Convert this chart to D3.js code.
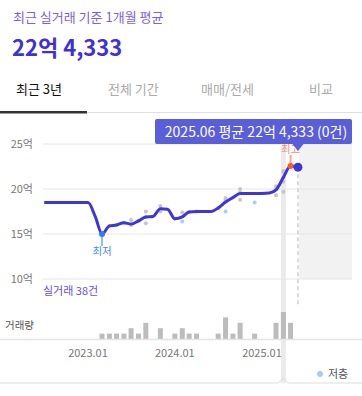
<!DOCTYPE html>
<html>
<head>
<meta charset="utf-8">
<script src="https://cdn.jsdelivr.net/npm/d3@7"></script>
<style>
  body { margin: 0; background: #fff; }
  svg { display: block; font-family: "Noto Sans CJK KR", "Noto Sans", sans-serif; }
</style>
</head>
<body>
<svg id="chart" width="362" height="396"></svg>
<script>
// monthly average (억)
const months = [
  '2022.07','2022.08','2022.09','2022.10','2022.11','2022.12',
  '2023.01','2023.02','2023.03','2023.04','2023.05','2023.06','2023.07','2023.08','2023.09','2023.10','2023.11','2023.12',
  '2024.01','2024.02','2024.03','2024.04','2024.05','2024.06','2024.07','2024.08','2024.09','2024.10','2024.11','2024.12',
  '2025.01','2025.02','2025.03','2025.04','2025.05','2025.06'
];
const avgPrice = [
  18.5, 18.5, 18.5, 18.5, 18.5, 18.5,
  18.5, 16.9, 15.0, 15.9, 16.0, 16.25, 16.1, 16.45, 16.9, 16.95, 17.8, 17.75,
  16.7, 16.9, 17.45, 17.5, 17.5, 17.5, 17.9, 18.55, 19.05, 19.5, 19.5, 19.5,
  19.5, 19.55, 19.9, 21.3, 22.55, 22.43
];
const volume = [
  0, 0, 0, 0, 0, 0,
  0, 0, 1, 1, 1, 1, 2, 1, 3, 0, 2, 0,
  1, 2, 1, 1, 0, 0, 1, 4, 1, 3, 0, 1,
  0, 0, 3, 5, 3, 0
];

// individual trades: month, price, low floor?
const tradeMonth = [
  '2023.03','2023.04','2023.05','2023.06','2023.07','2023.07','2023.08',
  '2023.09','2023.09','2023.09','2023.11','2023.11','2024.01','2024.02','2024.02',
  '2024.03','2024.04','2024.07','2024.08','2024.08','2024.08','2024.08','2024.09',
  '2024.10','2024.10','2024.10','2024.12','2025.03','2025.03','2025.03',
  '2025.04','2025.04','2025.04','2025.04','2025.04','2025.05','2025.05','2025.05'
];
const tradePrice = [
  15.0, 15.9, 16.0, 16.25, 16.55, 16.0, 16.45,
  17.5, 16.2, 16.9, 17.5, 18.1, 16.7, 16.4, 17.4,
  17.45, 17.5, 17.9, 17.5, 18.6, 19.0, 18.9, 19.05,
  20.0, 18.8, 19.6, 18.5, 20.3, 19.3, 20.0,
  21.9, 20.8, 19.7, 21.3, 22.0, 22.55, 22.6, 22.5
];
const tradeLow = [
  0, 0, 0, 0, 0, 0, 0,
  0, 0, 0, 0, 0, 0, 1, 0,
  0, 0, 0, 1, 0, 0, 0, 0,
  0, 0, 0, 1, 0, 0, 0,
  0, 0, 0, 0, 0, 0, 0, 0
];

const yTicks = [10, 15, 20, 25];
const xTicks = ['2023.01', '2024.01', '2025.01'];
const tabs = ['최근 3년', '전체 기간', '매매/전세', '비교'];

const parse = d3.timeParse('%Y.%m');
const svg = d3.select('#chart');

const x = d3.scaleTime()
  .domain([parse('2023.01'), parse('2025.01')])
  .range([88, 262]);
const y = d3.scaleLinear().domain([10, 25]).range([279, 144]);
const yBar = d3.scaleLinear().domain([0, 5]).range([339, 312]);

const plotLeft = 43, plotRight = 352;
const lastX = x(parse('2025.06'));
const hiX = x(parse('2025.04'));

// header
svg.append('text').attr('x', 13).attr('y', 22)
  .attr('font-size', 13).attr('fill', '#7b5fe4')
  .text('최근 실거래 기준 1개월 평균');
svg.append('text').attr('x', 12).attr('y', 56)
  .attr('font-size', 22).attr('font-weight', 700).attr('fill', '#3f30d9')
  .text('22억 4,333');

const tabX = [16, 108, 201, 309];
svg.selectAll('.tab').data(tabs).join('text')
  .attr('class', 'tab')
  .attr('x', (d, i) => tabX[i]).attr('y', 94)
  .attr('font-size', 13)
  .attr('fill', (d, i) => i === 0 ? '#111' : '#aaa')
  .text(d => d);
svg.append('line').attr('x1', 0).attr('x2', 362).attr('y1', 112.5).attr('y2', 112.5)
  .attr('stroke', '#e0e0e0').attr('stroke-width', 1);
svg.append('rect').attr('x', 0).attr('y', 111).attr('width', 87).attr('height', 2.5)
  .attr('fill', '#333');

// future shade
svg.append('rect').attr('x', lastX + 1).attr('y', y(25))
  .attr('width', plotRight - lastX - 1).attr('height', y(10) - y(25))
  .attr('fill', '#f2f2f2');

// highlight band
svg.append('rect').attr('x', hiX - 2.5).attr('y', 140)
  .attr('width', 5).attr('height', 243)
  .attr('fill', '#ebebeb');

// grid + y labels
svg.selectAll('.grid').data(yTicks).join('line')
  .attr('class', 'grid')
  .attr('x1', plotLeft).attr('x2', plotRight)
  .attr('y1', d => y(d)).attr('y2', d => y(d))
  .attr('stroke', '#e6e6e6');
svg.selectAll('.ylab').data(yTicks).join('text')
  .attr('class', 'ylab')
  .attr('x', 33).attr('y', d => y(d) + 4)
  .attr('text-anchor', 'end').attr('font-size', 11).attr('fill', '#777')
  .text(d => d + '억');

// dashed current line
svg.append('line').attr('x1', lastX).attr('x2', lastX)
  .attr('y1', y(22.43)).attr('y2', 307)
  .attr('stroke', '#cfcfcf').attr('stroke-width', 1.5).attr('stroke-dasharray', '4,3');

svg.append('text').attr('x', 43).attr('y', 295)
  .attr('font-size', 11).attr('fill', '#6a4fe0')
  .text('실거래 38건');
svg.append('text').attr('x', 5).attr('y', 329)
  .attr('font-size', 10.5).attr('fill', '#555')
  .text('거래량');

// volume bars
svg.selectAll('.bar').data(months.map((m, i) => ({ m, v: volume[i] })).filter(d => d.v > 0))
  .join('rect')
  .attr('class', 'bar')
  .attr('x', d => x(parse(d.m)) - 2.5)
  .attr('y', d => yBar(d.v))
  .attr('width', 5)
  .attr('height', d => yBar(0) - yBar(d.v))
  .attr('fill', '#bcbcbc');

// axis line + x labels
svg.append('line').attr('x1', 0).attr('x2', 362).attr('y1', 339.5).attr('y2', 339.5)
  .attr('stroke', '#e4e4e4').attr('stroke-width', 1.5);
svg.selectAll('.xlab').data(xTicks).join('text')
  .attr('class', 'xlab')
  .attr('x', d => x(parse(d))).attr('y', 357)
  .attr('text-anchor', 'middle').attr('font-size', 11).attr('fill', '#777')
  .text(d => d);

// bottom border with notch
svg.append('path')
  .attr('d', `M0,383H${hiX - 5}L${hiX},378L${hiX + 5},383H362`)
  .attr('fill', 'none').attr('stroke', '#ddd');

// legend
svg.append('circle').attr('cx', 320).attr('cy', 374).attr('r', 3).attr('fill', '#a9cbf2');
svg.append('text').attr('x', 328).attr('y', 378)
  .attr('font-size', 11).attr('fill', '#555').text('저층');

// trades
const trades = tradeMonth.map((m, i) => ({ m, p: tradePrice[i], low: tradeLow[i] }));
svg.selectAll('.trade').data(trades).join('circle')
  .attr('class', 'trade')
  .attr('cx', d => x(parse(d.m)))
  .attr('cy', d => y(d.p))
  .attr('r', 2)
  .attr('fill', d => d.low ? '#a9cdf7' : '#c6c6c6');

// average line
const line = d3.line()
  .x((d, i) => x(parse(months[i])))
  .y(d => y(d))
  .curve(d3.curveMonotoneX);
svg.append('path').datum(avgPrice)
  .attr('d', line)
  .attr('fill', 'none')
  .attr('stroke', '#3f35d8')
  .attr('stroke-width', 3)
  .attr('stroke-linejoin', 'round');

// min marker
const minI = avgPrice.indexOf(d3.min(avgPrice));
const minX = x(parse(months[minI])), minY = y(avgPrice[minI]);
svg.append('line').attr('x1', minX).attr('x2', minX).attr('y1', minY).attr('y2', minY + 12)
  .attr('stroke', '#8dbdf6').attr('stroke-width', 2);
svg.append('circle').attr('cx', minX).attr('cy', minY).attr('r', 3).attr('fill', '#2f7cf6');
svg.append('text').attr('x', minX).attr('y', minY + 21)
  .attr('text-anchor', 'middle').attr('font-size', 10.5).attr('fill', '#3f8ef0')
  .text('최저');

// max marker
const maxI = avgPrice.indexOf(d3.max(avgPrice));
const maxX = x(parse(months[maxI])), maxY = y(avgPrice[maxI]);
svg.append('text').attr('x', maxX).attr('y', maxY - 13)
  .attr('text-anchor', 'middle').attr('font-size', 10.5).attr('fill', '#ff8a65')
  .text('최고');
svg.append('line').attr('x1', maxX).attr('x2', maxX).attr('y1', maxY - 11).attr('y2', maxY)
  .attr('stroke', '#ffa585').attr('stroke-width', 2);
svg.append('circle').attr('cx', maxX).attr('cy', maxY).attr('r', 3).attr('fill', '#ff5a1f');

// current point
svg.append('circle').attr('cx', lastX).attr('cy', y(avgPrice[avgPrice.length - 1]))
  .attr('r', 4.5).attr('fill', '#3a36d9');

// tooltip
svg.append('rect').attr('x', 155).attr('y', 119).attr('width', 197).attr('height', 25)
  .attr('rx', 2).attr('fill', '#5a5ed8');
svg.append('path')
  .attr('d', `M${lastX - 6},143.5L${lastX + 6},143.5L${lastX},151Z`)
  .attr('fill', '#5a5ed8');
svg.append('text').attr('x', 256).attr('y', 137)
  .attr('text-anchor', 'middle').attr('font-size', 14).attr('fill', '#fff')
  .text('2025.06 평균 22억 4,333 (0건)');
</script>
</body>
</html>
